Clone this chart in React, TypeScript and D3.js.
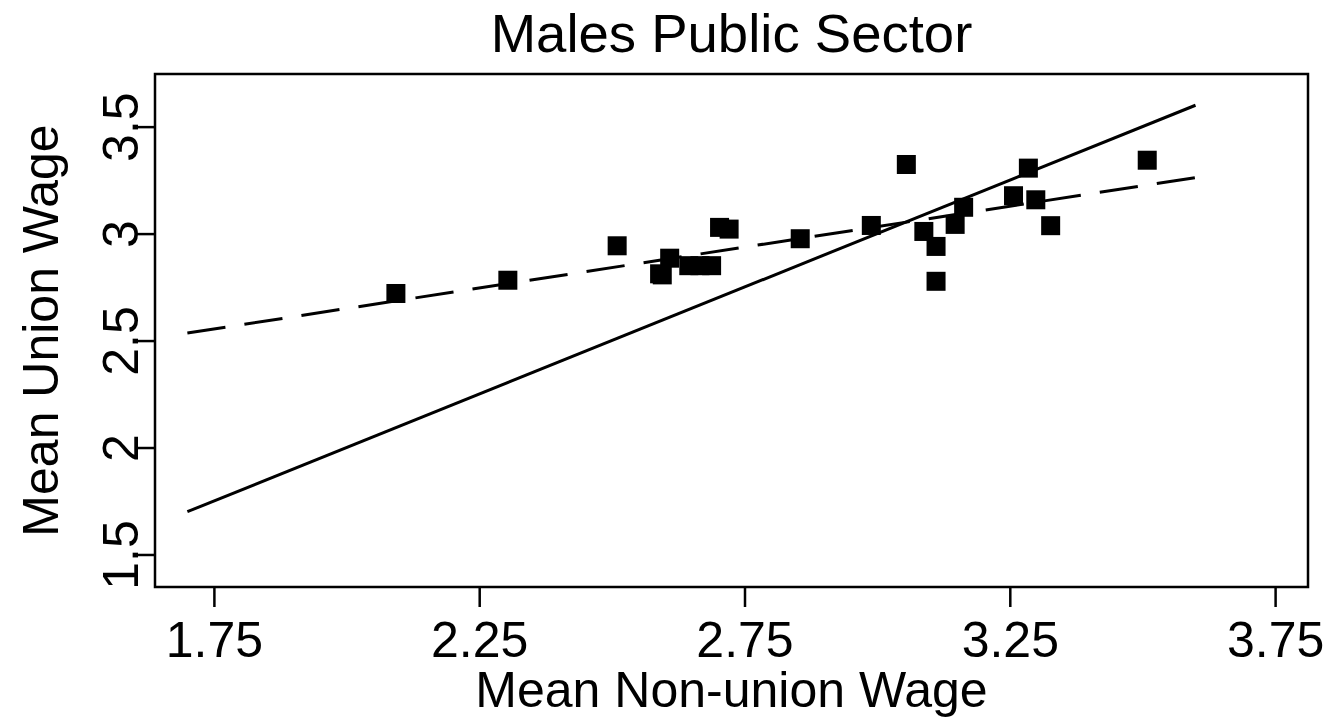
import React, { useRef, useEffect } from 'react';
import * as d3 from 'd3';

// mean non-union wage (x) and mean union wage (y)
const nonUnionWage = [
  2.093, 2.304, 2.510, 2.590, 2.595, 2.609, 2.645, 2.666, 2.688, 2.703, 2.721, 2.855,
  2.989, 3.055, 3.088, 3.111, 3.111, 3.147, 3.163, 3.257, 3.285, 3.299, 3.327, 3.509,
];
const unionWage = [
  2.720, 2.782, 2.943, 2.812, 2.807, 2.885, 2.850, 2.850, 2.850, 3.029, 3.021, 2.976,
  3.038, 3.323, 3.010, 2.940, 2.777, 3.043, 3.123, 3.177, 3.306, 3.158, 3.037, 3.343,
];

// 45 degree line and fitted (dashed) line, as end points
const equalLineX = [1.7, 3.6];
const equalLineY = [1.7, 3.6];
const fitLineX = [1.7, 3.6];
const fitLineY = [2.535, 3.262];

const xTicks = [1.75, 2.25, 2.75, 3.25, 3.75];
const xTickLabels = ['1.75', '2.25', '2.75', '3.25', '3.75'];
const yTicks = [1.5, 2, 2.5, 3, 3.5];
const yTickLabels = ['1.5', '2', '2.5', '3', '3.5'];

const FONT = '"Liberation Sans", Arial, Helvetica, sans-serif';

const App: React.FC = () => {
  const svgRef = useRef<SVGSVGElement | null>(null);

  useEffect(() => {
    d3.select(svgRef.current).selectAll('*').remove();

    const width = 1333;
    const height = 721;
    const left = 155, right = 1308, top = 74, bottom = 587;

    const svg = d3.select(svgRef.current)
      .attr('width', width)
      .attr('height', height)
      .style('background', '#ffffff');

    // scales
    const x = d3.scaleLinear().domain([1.639, 3.812]).range([left, right]);
    const y = d3.scaleLinear().domain([1.348, 3.746]).range([bottom, top]);

    // axes
    const xAxis = d3.axisBottom(x)
      .tickValues(xTicks)
      .tickFormat((_, i) => xTickLabels[i])
      .tickSize(20)
      .tickPadding(14);

    const gx = svg.append('g')
      .attr('transform', `translate(0, ${bottom})`)
      .call(xAxis);
    gx.select('.domain').remove();
    gx.selectAll('line').attr('stroke', '#000').attr('stroke-width', 2.5);
    gx.selectAll('text')
      .attr('fill', '#000')
      .style('font-family', FONT)
      .style('font-size', '50px');

    const yAxis = d3.axisLeft(y)
      .tickValues(yTicks)
      .tickFormat((_, i) => yTickLabels[i])
      .tickSize(20);

    const gy = svg.append('g')
      .attr('transform', `translate(${left}, 0)`)
      .call(yAxis);
    gy.select('.domain').remove();
    gy.selectAll('line').attr('stroke', '#000').attr('stroke-width', 2.5);
    gy.selectAll('text')
      .attr('fill', '#000')
      .attr('x', null)
      .attr('dy', null)
      .attr('transform', 'translate(-17, 0) rotate(-90)')
      .attr('text-anchor', 'middle')
      .style('font-family', FONT)
      .style('font-size', '50px');

    // lines
    const line = d3.line<[number, number]>()
      .x(d => x(d[0]))
      .y(d => y(d[1]));

    svg.append('path')
      .datum(equalLineX.map((v, i) => [v, equalLineY[i]] as [number, number]))
      .attr('d', line)
      .attr('fill', 'none')
      .attr('stroke', '#000')
      .attr('stroke-width', 3);

    svg.append('path')
      .datum(fitLineX.map((v, i) => [v, fitLineY[i]] as [number, number]))
      .attr('d', line)
      .attr('fill', 'none')
      .attr('stroke', '#000')
      .attr('stroke-width', 3)
      .attr('stroke-dasharray', '38.5,19.2');

    // points
    const size = 19;
    svg.selectAll('.pt')
      .data(nonUnionWage)
      .enter()
      .append('rect')
      .attr('class', 'pt')
      .attr('x', d => x(d) - size / 2)
      .attr('y', (_, i) => y(unionWage[i]) - size / 2)
      .attr('width', size)
      .attr('height', size)
      .attr('fill', '#000');

    // frame
    svg.append('rect')
      .attr('x', left)
      .attr('y', top)
      .attr('width', right - left)
      .attr('height', bottom - top)
      .attr('fill', 'none')
      .attr('stroke', '#000')
      .attr('stroke-width', 2.5);

    // titles
    svg.append('text')
      .attr('x', (left + right) / 2)
      .attr('y', 52)
      .attr('text-anchor', 'middle')
      .style('font-family', FONT)
      .style('font-size', '54.5px')
      .text('Males Public Sector');

    svg.append('text')
      .attr('x', (left + right) / 2)
      .attr('y', 707)
      .attr('text-anchor', 'middle')
      .style('font-family', FONT)
      .style('font-size', '50px')
      .text('Mean Non-union Wage');

    svg.append('text')
      .attr('transform', `translate(58, ${(top + bottom) / 2}) rotate(-90)`)
      .attr('text-anchor', 'middle')
      .style('font-family', FONT)
      .style('font-size', '50px')
      .text('Mean Union Wage');
  }, []);

  return (
    <div>
      <svg ref={svgRef} style={{ position: 'absolute', left: 0, top: 0 }}></svg>
    </div>
  );
};

export default App;
